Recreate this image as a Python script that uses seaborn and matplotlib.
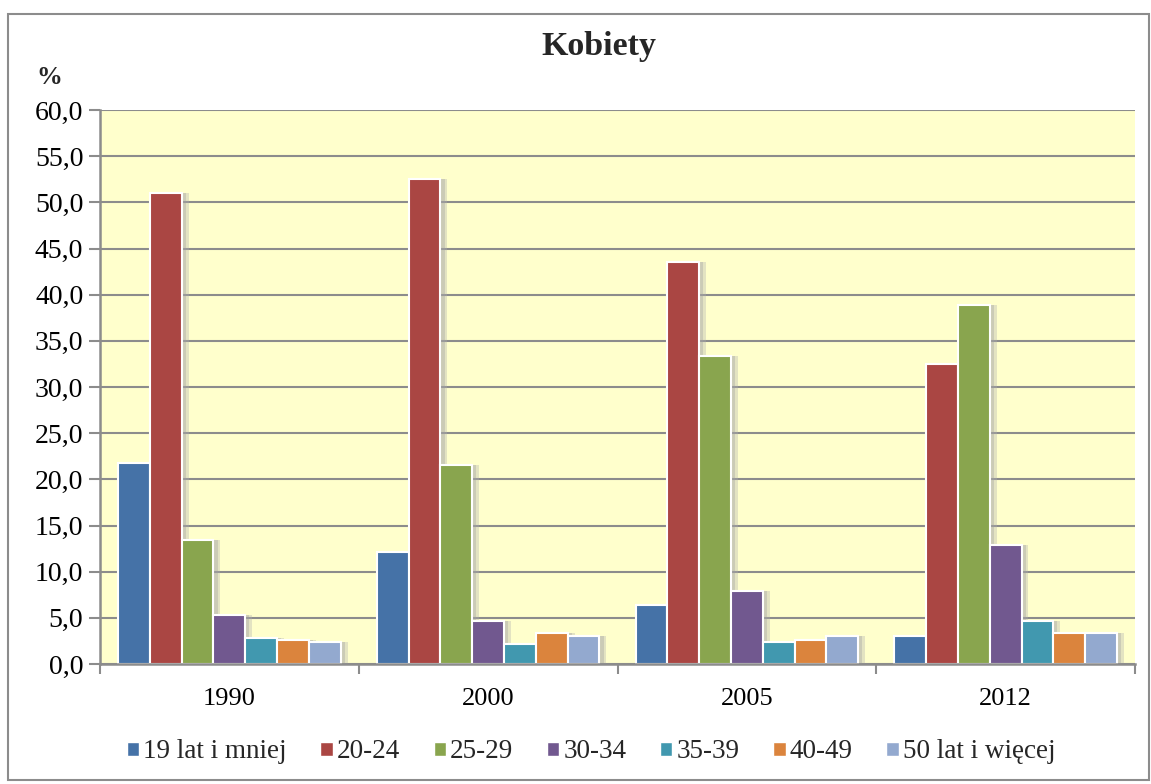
import matplotlib.pyplot as plt
import matplotlib.patheffects as pe
import pandas as pd
import seaborn as sns
from matplotlib.patches import Patch, Rectangle
from matplotlib.ticker import FuncFormatter, MultipleLocator

# ── Dane ─────────────────────────────────────────────────────────────────────
YEARS = ["1990", "2000", "2005", "2012"]
AGE_GROUPS = ["19 lat i mniej", "20-24", "25-29", "30-34", "35-39", "40-49", "50 lat i więcej"]

V_19_LESS = [21.8, 12.1, 6.4, 3.0]
V_20_24 = [51.0, 52.5, 43.5, 32.5]
V_25_29 = [13.4, 21.6, 33.4, 38.9]
V_30_34 = [5.3, 4.7, 7.9, 12.9]
V_35_39 = [2.8, 2.2, 2.4, 4.7]
V_40_49 = [2.6, 3.4, 2.6, 3.4]
V_50_MORE = [2.4, 3.0, 3.0, 3.4]

COLORS = ["#4572A7", "#AA4643", "#89A54E", "#71588F", "#4198AF", "#DB843D", "#93A9CF"]

series = [V_19_LESS, V_20_24, V_25_29, V_30_34, V_35_39, V_40_49, V_50_MORE]
rows = []
for group, vals in zip(AGE_GROUPS, series):
    for year, v in zip(YEARS, vals):
        rows.append({"rok": year, "grupa": group, "wartosc": v})
df = pd.DataFrame(rows)

# ── Wykres ───────────────────────────────────────────────────────────────────
sns.set_theme(style="white")
SERIF = ["Liberation Serif", "DejaVu Serif"]
plt.rcParams["font.family"] = SERIF

fig = plt.figure(figsize=(11.51, 7.84), dpi=100)
ax = fig.add_axes([100 / 1151, 1 - 664 / 784, 1035 / 1151, 554 / 784])
ax.set_facecolor("#FFFFCC")

sns.barplot(
    data=df, x="rok", y="wartosc", hue="grupa",
    order=YEARS, hue_order=AGE_GROUPS, palette=COLORS,
    width=0.86, edgecolor="white", linewidth=1.5,
    saturation=1, ax=ax, legend=False, zorder=3,
)

# cień pod słupkami
for bar in ax.patches:
    bar.set_path_effects([
        pe.SimplePatchShadow(offset=(5, 0), shadow_rgbFace="#B0B0B0", alpha=0.35),
        pe.SimplePatchShadow(offset=(3, 0), shadow_rgbFace="#A0A0A0", alpha=0.35),
        pe.Normal(),
    ])

ax.set_xlim(-0.5, 3.5)
ax.set_ylim(0, 60)
ax.yaxis.set_major_locator(MultipleLocator(5))
ax.yaxis.set_major_formatter(FuncFormatter(lambda v, _: f"{v:.1f}".replace(".", ",")))
ax.grid(axis="y", color="#8C8C8C", linewidth=1.5, zorder=0)
ax.set_axisbelow(True)

for side in ["top", "right"]:
    ax.spines[side].set_visible(False)
for side in ["left", "bottom"]:
    ax.spines[side].set_color("#8C8C8C")
    ax.spines[side].set_linewidth(1.8)
    ax.spines[side].set_zorder(4)

ax.set_xlabel("")
ax.set_ylabel("")
ax.tick_params(axis="y", which="major", left=True, length=8, width=1.5, color="#8C8C8C",
               labelsize=20, pad=4)
ax.tick_params(axis="x", which="major", bottom=False, labelsize=19, pad=11)
ax.set_xticks([-0.5, 0.5, 1.5, 2.5, 3.5], minor=True)
ax.tick_params(axis="x", which="minor", bottom=True, length=7, width=1.5, color="#8C8C8C")
for lab in ax.get_xticklabels() + ax.get_yticklabels():
    lab.set_color("black")

fig.text(599 / 1151, 1 - 47 / 784, "Kobiety", ha="center", va="center",
         fontsize=24.5, fontweight="bold")
fig.text(49 / 1151, 1 - 77 / 784, "%", ha="center", va="center", fontsize=18.5,
         fontweight="bold")

handles = [Patch(facecolor=c, edgecolor="white", label=g) for c, g in zip(COLORS, AGE_GROUPS)]
fig.legend(handles=handles, loc="center", bbox_to_anchor=(591 / 1151, 1 - 752 / 784), ncol=7,
           frameon=False, prop={"family": SERIF, "size": 19.5},
           handlelength=0.45, handleheight=0.45,
           handletextpad=0.15, columnspacing=1.25, borderaxespad=0, borderpad=0)

# ramka wokół całego wykresu
fig.patches.append(Rectangle((8 / 1151, 4 / 784), 1141 / 1151, 766 / 784,
                             transform=fig.transFigure, fill=False,
                             edgecolor="#8C8C8C", linewidth=1.5))

fig.savefig("out.png", dpi=100)
